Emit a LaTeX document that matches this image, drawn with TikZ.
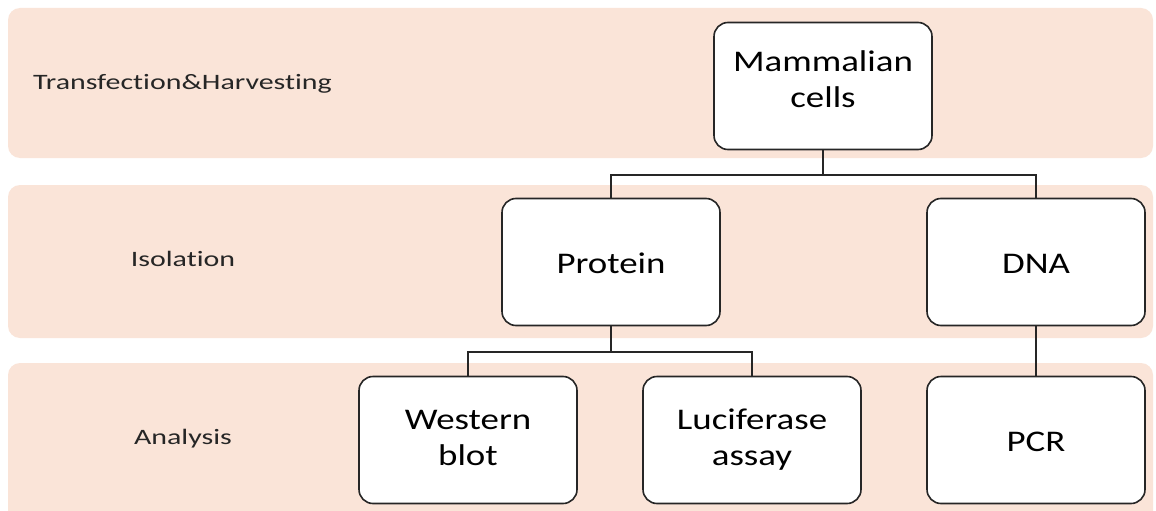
\documentclass[tikz,border=0pt]{standalone}
\usepackage{fontspec}
\setmainfont{Carlito}[Ligatures=NoCommon]
\newcommand{\widetext}[3][-1pt]{\raisebox{#1}[\dimexpr\height-(#1)\relax][\dimexpr\depth+(#1)\relax]{\scalebox{#2}[1]{\begin{tabular}{@{}c@{}}#3\end{tabular}}}}
\begin{document}
\begin{tikzpicture}[x=1pt,y=-1pt,
  band/.style={fill=bandcol,draw=none,rounded corners=12pt},
  box/.style={draw=black!85,line width=1.6pt,fill=white,rounded corners=14pt,minimum width=218pt,minimum height=127pt,align=center,font=\fontsize{30}{36}\selectfont,inner sep=0pt},
  lbl/.style={font=\fontsize{22}{24}\selectfont,anchor=west,inner sep=0pt,text=black!85},
  link/.style={draw=black!85,line width=1.4pt}]
\definecolor{bandcol}{HTML}{FAE4D8}
\useasboundingbox (0,0) rectangle (1156,511);
\fill[white] (0,0) rectangle (1156,511);
% bands
\path[band] (8,8) rectangle (1153,158);
\path[band] (8,185) rectangle (1153,338);
\path[band] (8,363) rectangle (1153,523);
% labels
\node[lbl] (l1) at (33,83) {\widetext{1.36}{Transfection\&Harvesting}};
\node[lbl,anchor=center] (l2) at (183,260) {\widetext{1.36}{Isolation}};
\node[lbl,anchor=center] (l3) at (183,438) {\widetext{1.36}{Analysis}};
% boxes
\node[box] (mam) at (823,86) {\widetext[2pt]{1.23}{Mammalian\\cells}};
\node[box] (pro) at (611,262) {\widetext[-2pt]{1.23}{Protein}};
\node[box] (dna) at (1036,262) {\widetext[-2pt]{1.23}{DNA}};
\node[box] (wb) at (468,440) {\widetext[0pt]{1.23}{Western\\blot}};
\node[box] (luc) at (752,440) {\widetext[0pt]{1.23}{Luciferase\\assay}};
\node[box] (pcr) at (1036,440) {\widetext[-2pt]{1.23}{PCR}};
% connectors
\coordinate (j1) at (823,175);
\coordinate (j2) at (611,352);
\draw[link] (mam.south) -- (j1);
\draw[link] (pro.north) |- (j1) -| (dna.north);
\draw[link] (pro.south) -- (j2);
\draw[link] (wb.north) |- (j2) -| (luc.north);
\draw[link] (dna.south) -- (pcr.north);
\end{tikzpicture}
\end{document}
